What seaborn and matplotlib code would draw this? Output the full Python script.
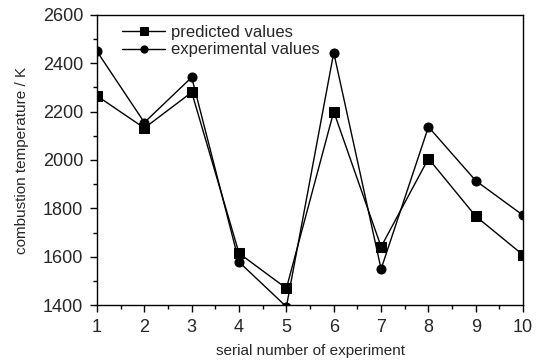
import numpy as np
import pandas as pd
import matplotlib
matplotlib.use("Agg")
import matplotlib.pyplot as plt
from matplotlib.ticker import MultipleLocator
import seaborn as sns

experiment = [1, 2, 3, 4, 5, 6, 7, 8, 9, 10]
predicted = [2265, 2132, 2280, 1614, 1469, 2200, 1641, 2006, 1767, 1607]
experimental = [2449, 2155, 2342, 1578, 1393, 2444, 1549, 2137, 1914, 1771]

df = pd.DataFrame({
    "experiment": experiment * 2,
    "temperature": predicted + experimental,
    "series": ["predicted values"] * len(experiment) + ["experimental values"] * len(experiment),
})

sns.set_style("ticks")
plt.rcParams["font.family"] = ["Liberation Sans Narrow", "Liberation Sans", "DejaVu Sans"]

fig = plt.figure(figsize=(5.36, 3.64), dpi=100)
ax = fig.add_axes([0.181, 0.162, 0.795, 0.797])

sns.lineplot(data=df, x="experiment", y="temperature", style="series",
             markers={"predicted values": "s", "experimental values": "o"},
             dashes=False, color="black", linewidth=1.0, markersize=6.5,
             markeredgecolor="black", ax=ax)
for ln in ax.lines:
    ln.set_clip_on(True)

ax.set_xlim(1, 10)
ax.set_ylim(1400, 2600)
ax.xaxis.set_major_locator(MultipleLocator(1))
ax.xaxis.set_minor_locator(MultipleLocator(0.5))
ax.yaxis.set_major_locator(MultipleLocator(200))
ax.yaxis.set_minor_locator(MultipleLocator(100))
ax.tick_params(which="major", direction="out", length=5, width=1, labelsize=13,
               color="black", pad=5)
ax.tick_params(which="minor", direction="out", length=3, width=1, color="black")
for sp in ax.spines.values():
    sp.set_visible(True)
    sp.set_linewidth(1)
    sp.set_color("black")

ax.set_xlabel("serial number of experiment", fontsize=11, labelpad=6)
ax.set_ylabel("combustion temperature / K", fontsize=11, labelpad=10)

leg = ax.legend(loc="upper left", bbox_to_anchor=(0.035, 1.0), frameon=False,
                fontsize=12, handlelength=2.6, handletextpad=0.35,
                borderaxespad=0.2, labelspacing=0.15, markerscale=0.8)

fig.savefig("out.png", dpi=100)
